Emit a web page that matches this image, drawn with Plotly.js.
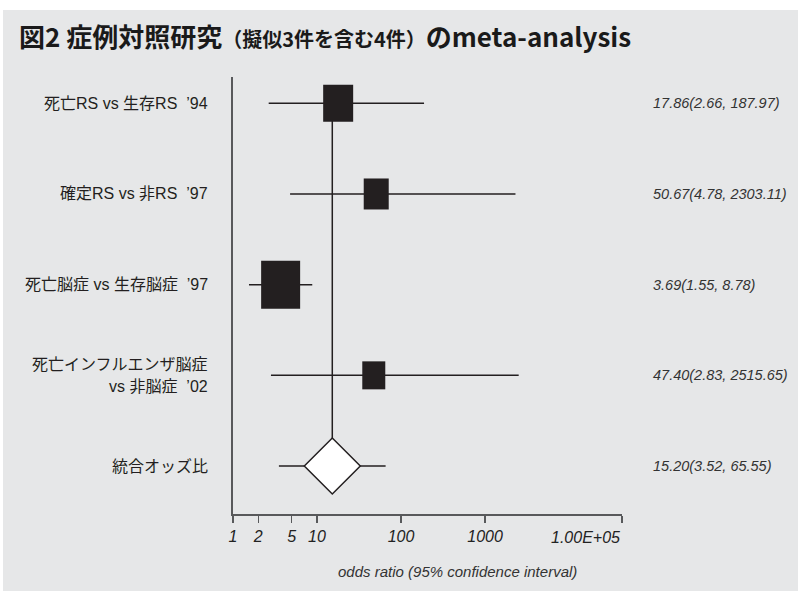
<!DOCTYPE html>
<html>
<head>
<meta charset="utf-8">
<script src="https://cdn.plot.ly/plotly-3.0.1.min.js"></script>
<style>
  html, body { margin: 0; padding: 0; background: #ffffff; }
  #chart { position: absolute; left: 3px; top: 10px; width: 795px; height: 581px; }
</style>
</head>
<body>
<div id="chart"></div>
<script>
// ---- data ----
var studyLabels = [
  "死亡RS vs 生存RS  ’94",
  "確定RS vs 非RS  ’97",
  "死亡脳症 vs 生存脳症  ’97",
  "死亡インフルエンザ脳症<br>vs 非脳症  ’02"
];
var oddsRatios = [17.86, 50.67, 3.69, 47.40];
var ciLow = [2.66, 4.78, 1.55, 2.83];
var ciHigh = [187.97, 2303.11, 8.78, 2515.65];
var pooledLabel = "統合オッズ比";
var pooledOR = 15.20;
var pooledLow = 3.52;
var pooledHigh = 65.55;
var rowY = [5, 4, 3, 2];
var pooledY = 1;
var tickVals = [1, 2, 5, 10, 100, 1000, 42700];
var tickText = ["1", "2", "5", "10", "100", "1000", "1.00E+05"];
var titleText = "図2 症例対照研究<span style=\"font-size:20px\">（擬似3件を含む4件）</span>のmeta-analysis";
var xTitle = "odds ratio (95% confidence interval)";

// marker box sizes (px, style)
var boxW = [30, 25, 39, 23];
var boxH = [37, 31, 48, 28];
var diamondHalf = 28;

var ink = "#231f20";
var axisCol = "#58595b";

// whiskers
var wx = [], wy = [];
for (var i = 0; i < oddsRatios.length; i++) {
  wx.push(ciLow[i], ciHigh[i], null);
  wy.push(rowY[i], rowY[i], null);
}
wx.push(pooledLow, pooledHigh, null);
wy.push(pooledY, pooledY, null);

var traces = [{
  type: "scatter", mode: "lines", x: wx, y: wy,
  line: {color: ink, width: 1.5}, hoverinfo: "skip", showlegend: false
}];

function boxPath(w, h) {
  var a = w / 2, b = h / 2;
  return "M " + (-a) + "," + (-b) + " L " + a + "," + (-b) + " L " + a + "," + b + " L " + (-a) + "," + b + " Z";
}

var shapes = [];
// vertical line at pooled estimate
shapes.push({type: "line", xref: "x", yref: "y", x0: pooledOR, x1: pooledOR,
  y0: rowY[0], y1: pooledY, line: {color: ink, width: 1.5}});
for (var j = 0; j < oddsRatios.length; j++) {
  shapes.push({type: "path", xref: "x", yref: "y",
    xsizemode: "pixel", ysizemode: "pixel",
    xanchor: oddsRatios[j], yanchor: rowY[j],
    path: boxPath(boxW[j], boxH[j]),
    fillcolor: ink, line: {width: 0}});
}
var d = diamondHalf;
shapes.push({type: "path", xref: "x", yref: "y",
  xsizemode: "pixel", ysizemode: "pixel",
  xanchor: pooledOR, yanchor: pooledY,
  path: "M " + (-d) + ",0 L 0," + d + " L " + d + ",0 L 0," + (-d) + " Z",
  fillcolor: "#ffffff", line: {color: ink, width: 1.5}});

function fmt(or, lo, hi) {
  return or.toFixed(2) + "(" + lo.toFixed(2) + ", " + hi.toFixed(2) + ")";
}

var annotations = [];
var leftFont = {family: "Liberation Sans, Noto Sans CJK JP, sans-serif", size: 16, color: ink};
var rightFont = {family: "Liberation Sans, Arial, sans-serif", size: 14.5, color: "#333333", style: "italic"};
function addLeft(text, y) {
  var lines = text.split("<br>");
  var gap = 22;
  for (var m = 0; m < lines.length; m++) {
    annotations.push({xref: "paper", yref: "y", x: -0.059, y: y, xanchor: "right", yanchor: "middle",
      yshift: ((lines.length - 1) / 2 - m) * gap,
      align: "right", text: lines[m], showarrow: false, font: leftFont});
  }
}
for (var k = 0; k < oddsRatios.length; k++) {
  addLeft(studyLabels[k], rowY[k]);
  annotations.push({xref: "paper", yref: "y", x: 1.0738, y: rowY[k], xanchor: "left", yanchor: "middle",
    align: "left", text: fmt(oddsRatios[k], ciLow[k], ciHigh[k]), showarrow: false, font: rightFont});
}
addLeft(pooledLabel, pooledY);
annotations.push({xref: "paper", yref: "y", x: 1.0738, y: pooledY, xanchor: "left", yanchor: "middle",
  align: "left", text: fmt(pooledOR, pooledLow, pooledHigh), showarrow: false, font: rightFont});
annotations.push({xref: "paper", yref: "paper", x: 0.577, y: -0.132, xanchor: "center", yanchor: "middle",
  text: xTitle, showarrow: false,
  font: {family: "Liberation Sans, Arial, sans-serif", size: 15, color: "#333333", style: "italic"}});

var tickFont = {family: "Liberation Sans, Arial, sans-serif", size: 16, color: "#222222", style: "italic"};
// last tick label sits right-aligned at its tick, as in the original
var shownTicks = tickText.slice(0, tickText.length - 1).concat([""]);
annotations.push({xref: "paper", yref: "paper", x: 1.0, y: -0.053, xanchor: "right", yanchor: "middle",
  text: tickText[tickText.length - 1], showarrow: false, font: tickFont});

var layout = {
  width: 795, height: 581,
  margin: {l: 230, r: 176, t: 67, b: 77, pad: 0},
  paper_bgcolor: "#e6e7e8", plot_bgcolor: "#e6e7e8",
  showlegend: false,
  title: {text: titleText, xref: "container", yref: "container", x: 0.02, y: 0.952,
    xanchor: "left", yanchor: "middle",
    font: {family: "Noto Sans CJK JP, sans-serif", size: 26, weight: 700, color: "#1a1a1a"}},
  xaxis: {type: "log", range: [0, Math.log10(tickVals[tickVals.length - 1])],
    tickmode: "array", tickvals: tickVals, ticktext: shownTicks,
    showline: true, linecolor: axisCol, linewidth: 1.5, mirror: false,
    ticks: "outside", ticklen: 7, tickwidth: 1.5, tickcolor: axisCol,
    showgrid: false, zeroline: false,
    tickfont: tickFont},
  yaxis: {range: [0.471, 5.29], showline: true, linecolor: axisCol, linewidth: 2,
    ticks: "", showticklabels: false, showgrid: false, zeroline: false},
  shapes: shapes,
  annotations: annotations
};

Plotly.newPlot("chart", traces, layout, {displayModeBar: false, staticPlot: true});
</script>
</body>
</html>
